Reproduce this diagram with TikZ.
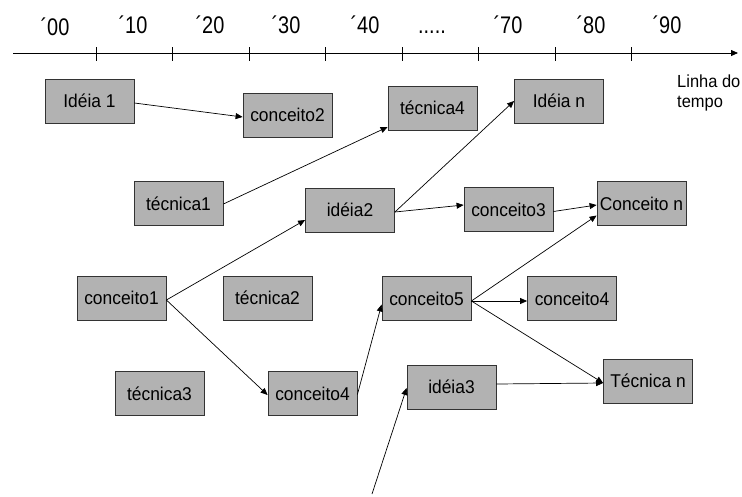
\documentclass[tikz,border=0pt]{standalone}
\usepackage{fontspec}
\setmainfont{Liberation Sans}
\newfontfamily\tlfont[FakeStretch=0.83]{Liberation Sans}
\newfontfamily\boxfont[FakeStretch=0.94]{Liberation Sans}
\usetikzlibrary{arrows.meta,calc}
\definecolor{boxgray}{RGB}{178,178,178}
\begin{document}
\begin{tikzpicture}[x=1pt,y=-1pt,
  box/.style={draw=black!80, line width=0.8pt, fill=boxgray, minimum width=89pt, minimum height=44pt, inner sep=0pt, font=\boxfont\fontsize{18.5}{22}\selectfont},
  conn/.style={draw=black, line width=0.7pt, -{Triangle[length=7pt,width=6pt]}},
  tl/.style={font=\tlfont\fontsize{24}{28}\selectfont, anchor=base, inner sep=0pt},
  txt/.style={font=\boxfont\fontsize{17.5}{20}\selectfont, anchor=base west, inner sep=0pt},
]
\useasboundingbox (0,0) rectangle (742,496);
% timeline
\coordinate (tls) at (13,53);
\coordinate (tle) at (738,53);
\draw[line width=0.8pt, -{Triangle[length=7pt,width=6pt]}] (tls) -- (tle);
\foreach \i in {0,...,7}{
  \draw[line width=0.8pt] ({96+76.5*\i},47) -- ({96+76.5*\i},61);
}
\node[tl] (l00) at (55,35) {´00};
\node[tl] (l10) at (133,33) {´10};
\node[tl] (l20) at (210,33) {´20};
\node[tl] (l30) at (286,33) {´30};
\node[tl] (l40) at (365,33) {´40};
\node[tl] (ldots) at (432,33) {.....};
\node[tl] (l70) at (508,33) {´70};
\node[tl] (l80) at (591,33) {´80};
\node[tl] (l90) at (667,33) {´90};
\node[txt] (lin1) at (677,87) {Linha do};
\node[txt] (lin2) at (677,107) {tempo};
% boxes
\node[box] (i1) at (89.5,101) {Idéia 1};
\node[box] (c2) at (287.5,115) {conceito2};
\node[box] (t4) at (432.5,108) {técnica4};
\node[box] (in) at (559,101) {Idéia n};
\node[box] (t1) at (178.5,203.5) {técnica1};
\node[box] (i2) at (350,210) {idéia2};
\node[box] (c3) at (508.5,209.5) {conceito3};
\node[box] (cn) at (641.5,203.5) {Conceito n};
\node[box] (c1) at (121.5,298) {conceito1};
\node[box] (t2) at (267.5,298) {técnica2};
\node[box] (c5) at (426.5,298.5) {conceito5};
\node[box] (c4b) at (572,298.5) {conceito4};
\node[box] (t3) at (159.5,393.5) {técnica3};
\node[box] (c4) at (312.5,393.5) {conceito4};
\node[box] (i3) at (451.5,387) {idéia3};
\node[box] (tn) at (648,381) {Técnica n};
\coordinate (free) at (372,494);
% connectors
\draw[conn] ($(i1.east)+(0,2)$) -- ($(c2.west)+(0,2)$);
\draw[conn] ($(t1.east)+(0,0.5)$) -- ($(t4.west)+(0,19)$);
\draw[conn] ($(i2.east)+(0,2)$) -- (in.west);
\draw[conn] ($(i2.east)+(0,2)$) -- ($(c3.west)+(0,-4.5)$);
\draw[conn] ($(c3.east)+(0,2)$) -- ($(cn.west)+(0,1.5)$);
\draw[conn] ($(c5.east)+(0,2.5)$) -- ($(cn.west)+(0,12)$);
\draw[conn] ($(c5.east)+(0,2.5)$) -- ($(c4b.west)+(0,2.5)$);
\draw[conn] ($(c5.east)+(0,2.5)$) -- ($(tn.west)+(0,2)$);
\draw[conn] ($(i3.east)+(0,-3)$) -- ($(tn.west)+(0,2)$);
\draw[conn] ($(c1.east)+(0,2)$) -- ($(i2.west)+(0,10)$);
\draw[conn] ($(c1.east)+(0,2)$) -- ($(c4.west)+(0,1.5)$);
\draw[conn] ($(c4.east)+(0,1)$) -- ($(c5.west)+(0,6)$);
\draw[conn] (free) -- ($(i3.west)+(0,1)$);
\end{tikzpicture}
\end{document}
